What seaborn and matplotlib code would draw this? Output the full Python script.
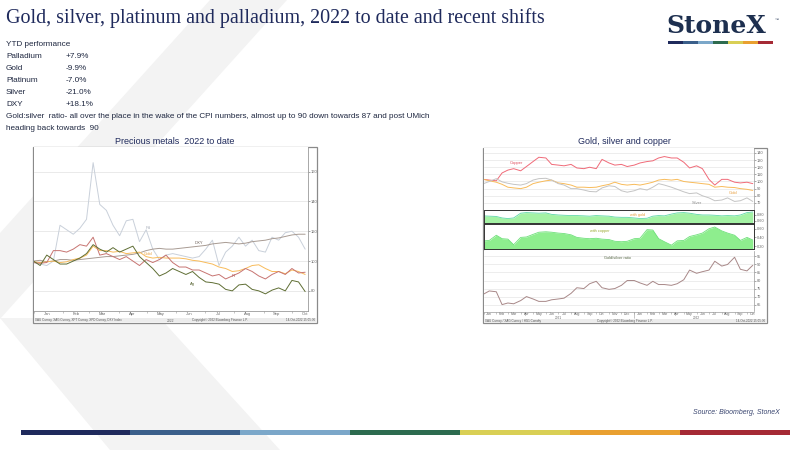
import matplotlib
matplotlib.use('Agg')
import numpy as np
import pandas as pd
import matplotlib.pyplot as plt
import matplotlib.dates as mdates
import matplotlib.transforms as mtrans
from matplotlib.patches import Polygon, Rectangle
import seaborn as sns

# ---------------- data ----------------
# Left chart: precious metals 2022 to date (weekly, rebased = 100)
pm_dates = pd.date_range('2022-01-01', periods=42, freq='7D')
palladium = [99, 98, 97, 100, 124, 121, 118, 122, 128, 166, 138, 134, 124, 117, 127, 128, 113, 121, 108, 101,
             104, 105, 104, 103, 102, 103, 108, 114, 97, 106, 110, 116, 110, 114, 107, 106, 116, 114, 119, 120, 116, 108]
dxy = [100, 100.5, 99.5, 100, 101, 101, 100.5, 101, 101.5, 102, 102.5, 103, 103, 103.5, 104, 104.5, 105.5, 107, 108, 108.5,
       108, 108, 108.5, 109, 109.5, 110, 110.5, 111.5, 112, 112.5, 112, 111.5, 112, 113, 113.5, 114, 115, 115.5, 116.5, 117.5, 118, 118]
gold = [99.5, 99, 99.5, 100, 99, 99.5, 101, 102, 104, 110, 107, 107, 106, 106.5, 105, 105.5, 106, 103, 102, 102.5,
        102, 102, 102, 101.5, 100.5, 100, 99, 98, 96, 95, 93, 93.5, 95, 97, 97.5, 95, 93, 93, 91.5, 94, 93, 91]
platinum = [99, 98.5, 99, 107, 107, 106, 108, 111, 110, 116, 104, 105, 103, 101, 103, 100, 97, 101, 99, 101,
            104, 99, 96, 96, 94, 94, 92, 90, 91, 88, 90, 92, 95, 93, 90, 88, 91, 93, 91, 95, 92, 92.5]
silver = [100, 97, 104, 101, 98, 98, 100, 102, 105, 111, 108, 106, 109, 106, 108, 110, 103, 99, 95, 90,
          92, 95, 93, 91, 93, 89, 86, 85.5, 84.5, 81, 80, 84, 84.5, 81, 80, 78, 80.5, 82, 80, 87, 86, 79.5]
pm_names = ['Pd', 'DXY', 'Gold', 'Pt', 'Ag']
pm_colors = ['#c9d0da', '#a89b93', '#f8bb5a', '#c77471', '#5f6e34']
pm_ticks = [80, 100, 120, 140, 160]

# Right chart: gold, silver and copper (semi-monthly, rebased = 100)
gsc_dates = pd.date_range('2021-01-01', periods=44, freq='SMS')
copper = [103, 102, 101, 112, 116, 118, 115, 121, 128, 134, 133, 124, 123, 122, 124, 119, 118, 120, 118, 131,
          126, 123, 124, 121, 123, 126, 128, 129, 133, 135, 133, 133, 127, 119, 122, 118, 103, 95, 103, 103, 99, 98, 99, 97]
gold2 = [103, 101, 99, 96, 92, 91, 90, 92, 97, 99, 101, 102, 98, 97, 95, 92, 92, 91.5, 92, 94,
         96, 99, 96, 95, 96, 95, 97, 99, 102, 103, 102, 103, 100, 99, 98, 97, 96, 92, 93, 92, 91.5, 90, 89, 87.5]
silver2 = [97, 100, 104, 99.5, 97.5, 96, 95, 97, 102, 104, 104.5, 102, 97, 95, 90, 90, 88, 86, 85.5, 91,
           94, 93, 87, 85, 87, 90, 88, 92, 97, 95, 92, 89, 85.5, 83, 84, 80, 77, 73, 74, 77, 72, 73, 77, 72]
corr_gold = [0.77, 0.76, 0.75, 0.70, 0.68, 0.70, 0.86, 0.88, 0.87, 0.86, 0.87, 0.82, 0.80, 0.79, 0.78, 0.78, 0.77, 0.76,
             0.78, 0.77, 0.76, 0.73, 0.72, 0.72, 0.70, 0.68, 0.69, 0.76, 0.78, 0.77, 0.83, 0.87, 0.88, 0.86, 0.82, 0.80,
             0.80, 0.79, 0.77, 0.78, 0.77, 0.80, 0.88, 0.90]
corr_copper = [0.32, 0.33, 0.45, 0.37, 0.36, 0.23, 0.40, 0.41, 0.47, 0.52, 0.53, 0.52, 0.50, 0.49, 0.46, 0.40, 0.38,
               0.37, 0.38, 0.36, 0.35, 0.31, 0.30, 0.31, 0.37, 0.38, 0.58, 0.57, 0.37, 0.30, 0.22, 0.32, 0.33, 0.42,
               0.46, 0.50, 0.60, 0.64, 0.55, 0.50, 0.45, 0.33, 0.40, 0.34]
gs_ratio = [71.5, 73.5, 73, 65, 66, 65.5, 67.5, 70, 68.5, 67, 67, 68, 68.5, 69, 72, 75.5, 75, 78, 79.5, 75.5,
            74.5, 75, 77, 80, 80, 78.5, 77, 79.5, 77.5, 77.5, 77, 78, 80.5, 86.5, 84.5, 85.5, 86.5, 92, 89, 90,
            94.5, 87, 86, 89.5]
gsc_names = ['Copper', 'Gold', 'Silver']
gsc_colors = ['#f06a78', '#f8bb5a', '#c4c4c4']
gsc_ticks = [70, 80, 90, 100, 110, 120, 130, 140]
cg_ticks = [0.60, 0.80]
cc_ticks = [0.20, 0.40, 0.60]
gs_ticks = [65, 70, 75, 80, 85, 90, 95]

# Text content
title = 'Gold, silver, platinum and palladium, 2022 to date and recent shifts'
ytd_names = ['Palladium', 'Gold', 'Platinum', 'Silver', 'DXY']
ytd_values = ['+7.9%', '-9.9%', '-7.0%', '-21.0%', '+18.1%']
comment = ['Gold:silver  ratio- all over the place in the wake of the CPI numbers, almost up to 90 down towards 87 and post UMich',
           'heading back towards  90']
bar_colors = ['#1f2a5c', '#3a5f8a', '#7ba7c9', '#2d6b4f', '#d9cf55', '#e9a030', '#a52a35']

# ---------------- figure ----------------
sns.set_theme(style='white')
plt.rcParams['font.family'] = ['Liberation Sans', 'DejaVu Sans']
W, H = 800, 450
fig = plt.figure(figsize=(8, 4.5), dpi=100)
fig.patch.set_facecolor('white')


def R(x0, y0, x1, y1):
    return [x0 / W, 1 - y1 / H, (x1 - x0) / W, (y1 - y0) / H]


bg = fig.add_axes([0, 0, 1, 1])
bg.set_xlim(0, W)
bg.set_ylim(H, 0)
bg.axis('off')
# faint watermark chevron
bg.add_patch(Polygon([(210, 0), (287, 0), (0, 319), (0, 233)], closed=True, fc='#f3f3f3', ec='none'))
bg.add_patch(Polygon([(0, 318), (160, 318), (280, 450), (110, 450)], closed=True, fc='#f3f3f3', ec='none'))

navy = '#1f2a5c'
bg.text(6, 18, title, fontsize=14.4, family=['Liberation Serif'], color=navy, va='center', ha='left')

# logo
bg.text(716, 33, 'StoneX', fontsize=18, family=['DejaVu Serif'], weight='bold', color='#1d2f4f',
        ha='center', va='baseline')
bg.text(775, 20, '\u2122', fontsize=3, color='#1d2f4f', ha='left', va='center')
seg = (773 - 668) / 7
for i, c in enumerate(bar_colors):
    bg.add_patch(Rectangle((668 + i * seg, 41.2), seg, 2.8, fc=c, ec='none'))

# text block
tcol = '#1e2740'
fs_txt = 5.9
bg.text(6, 45, 'YTD performance', fontsize=fs_txt, color=tcol, va='center')
for i, (n, v) in enumerate(zip(ytd_names, ytd_values)):
    y = 57 + 12 * i
    bg.text(6, y, n, fontsize=fs_txt, color=tcol, va='center')
    bg.text(66, y, v, fontsize=fs_txt, color=tcol, va='center')
for i, line in enumerate(comment):
    bg.text(6, 117 + 11.8 * i, line, fontsize=fs_txt, color=tcol, va='center')

# source + bottom bar
bg.text(780, 413, 'Source: Bloomberg, StoneX', fontsize=5, style='italic', color='#3a4670', ha='right', va='center')
segb = (790 - 20.5) / 7
for i, c in enumerate(bar_colors):
    bg.add_patch(Rectangle((20.5 + i * segb, 429.5), segb, 5.5, fc=c, ec='none'))

# chart titles
bg.text(175, 141.5, 'Precious metals  2022 to date', fontsize=6.5, color=navy, ha='center', va='center')
bg.text(624, 141.5, 'Gold, silver and copper', fontsize=6.5, color=navy, ha='center', va='center')

# chart frames and footers
for (x0, y0, x1, y1) in [(33, 146.5, 316.5, 322.5), (483, 147.5, 767, 323)]:
    bg.add_patch(Rectangle((x0, y0), x1 - x0, y1 - y0, fc='white', ec='#8a8a8a', lw=0.9))
    bg.add_patch(Rectangle((x0 + 0.5, y1 - 4.5), x1 - x0 - 1, 4, fc='#ececec', ec='none'))
foot_kw = dict(fontsize=2.2, color='#555555', va='center')
bg.text(35, 320.3, 'XAU Curncy, XAG Curncy, XPT Curncy, XPD Curncy, DXY Index', **foot_kw)
bg.text(220, 320.3, 'Copyright\u00a9 2022 Bloomberg Finance L.P.', ha='center', **foot_kw)
bg.text(315, 320.3, '14-Oct-2022 15:05:36', ha='right', **foot_kw)
bg.text(485, 320.8, 'XAU Curncy / XAG Curncy / HG1 Comdty', **foot_kw)
bg.text(625, 320.8, 'Copyright\u00a9 2022 Bloomberg Finance L.P.', ha='center', **foot_kw)
bg.text(765, 320.8, '14-Oct-2022 15:05:36', ha='right', **foot_kw)

tick_col = '#666666'
grid_col = '#e6e6e6'

# ---------------- left chart ----------------
pm_long = pd.DataFrame({
    'date': np.tile(pm_dates, 5),
    'value': palladium + dxy + gold + platinum + silver,
    'series': np.repeat(pm_names, len(pm_dates)),
})
axL = fig.add_axes(R(33.5, 147, 308, 311))
axL.set_facecolor('white')
sns.lineplot(data=pm_long, x='date', y='value', hue='series', hue_order=pm_names,
             palette=pm_colors, lw=0.7, legend=False, ax=axL)
axL.set_xlim(pd.Timestamp('2022-01-01'), pd.Timestamp('2022-10-18'))
axL.set_ylim(66.5, 176.5)
axL.set_yticks(pm_ticks)
axL.set_yticklabels([str(t) for t in pm_ticks])
axL.yaxis.tick_right()
axL.grid(axis='y', color=grid_col, lw=0.6)
axL.set_axisbelow(True)
axL.set_xlabel('')
axL.set_ylabel('')
for s in ['top', 'left']:
    axL.spines[s].set_visible(False)
for s in ['right', 'bottom']:
    axL.spines[s].set_color('#9a9a9a')
    axL.spines[s].set_linewidth(0.6)
axL.xaxis.set_major_locator(mdates.MonthLocator(bymonthday=15))
axL.xaxis.set_major_formatter(mdates.DateFormatter('%b'))
axL.xaxis.set_minor_locator(mdates.MonthLocator())
axL.tick_params(axis='x', which='major', length=0, labelsize=3, pad=0.6, colors=tick_col)
axL.tick_params(axis='x', which='minor', length=1.5, width=0.4, color='#999999', bottom=True)
axL.tick_params(axis='y', labelsize=3, length=1.5, width=0.4, pad=0.8, colors=tick_col, right=True)
axL.text(0.5, -0.06, '2022', transform=axL.transAxes, fontsize=2.4, color=tick_col, ha='center', va='center')
lab_kw = dict(fontsize=3, va='center', ha='center')
axL.text(pd.Timestamp('2022-05-02'), 122, 'Pd', color='#a8afba', **lab_kw)
axL.text(pd.Timestamp('2022-05-02'), 104.5, 'Gold', color='#e8a040', **lab_kw)
axL.text(pd.Timestamp('2022-06-25'), 112, 'DXY', color='#6f625a', **lab_kw)
axL.text(pd.Timestamp('2022-08-01'), 90, 'Pt', color='#b05a58', **lab_kw)
axL.text(pd.Timestamp('2022-06-18'), 84.5, 'Ag', color='#4f5c28', **lab_kw)

# ---------------- right chart ----------------
xlim_r = (pd.Timestamp('2021-01-01'), pd.Timestamp('2022-10-18'))
dark = '#333333'


def style_panel(ax, ylim, ticks, fmt, edge, lw_edge):
    ax.set_facecolor('white')
    ax.set_xlim(*xlim_r)
    ax.set_ylim(*ylim)
    ax.set_yticks(ticks)
    ax.set_yticklabels([fmt.format(t) for t in ticks])
    ax.yaxis.tick_right()
    ax.tick_params(axis='y', labelsize=2.8, length=1.2, width=0.4, pad=0.8, colors=tick_col, right=True)
    ax.set_xlabel('')
    ax.set_ylabel('')
    for s in ax.spines.values():
        s.set_color(edge)
        s.set_linewidth(lw_edge)


gsc_long = pd.DataFrame({
    'date': np.tile(gsc_dates, 3),
    'value': copper + gold2 + silver2,
    'series': np.repeat(gsc_names, len(gsc_dates)),
})
ax1 = fig.add_axes(R(483.5, 148, 754, 210))
sns.lineplot(data=gsc_long, x='date', y='value', hue='series', hue_order=gsc_names,
             palette=gsc_colors, lw=0.7, legend=False, ax=ax1)
style_panel(ax1, (60, 147), gsc_ticks, '{:d}', '#9a9a9a', 0.5)
ax1.spines['top'].set_visible(False)
ax1.spines['left'].set_visible(False)
ax1.grid(axis='y', color=grid_col, lw=0.5)
ax1.set_axisbelow(True)
ax1.set_xticks([])
ax1.text(pd.Timestamp('2021-03-22'), 126, 'Copper', fontsize=3, color='#e05060', ha='center', va='center')
ax1.text(pd.Timestamp('2022-08-28'), 83.5, 'Gold', fontsize=3, color='#e8a040', ha='center', va='center')
ax1.text(pd.Timestamp('2022-06-01'), 69.5, 'Silver', fontsize=3, color='#8a8a8a', ha='center', va='center')

ax2 = fig.add_axes(R(483.5, 210.5, 754, 223))
ax2.fill_between(gsc_dates, 0, corr_gold, color='#a4f2a4', lw=0)
sns.lineplot(x=gsc_dates, y=corr_gold, color='#60d8a8', lw=0.6, ax=ax2)
style_panel(ax2, (0.53, 0.95), cg_ticks, '{:.2f}', dark, 0.7)
ax2.xaxis.set_major_locator(mdates.MonthLocator())
ax2.grid(axis='x', color='white', lw=0.5, alpha=0.8)
ax2.tick_params(axis='x', length=0, labelbottom=False)
ax2.text(pd.Timestamp('2022-01-10'), 0.80, 'with gold', fontsize=2.8, color='#e8a040', ha='center', va='center')

ax3 = fig.add_axes(R(483.5, 224, 754, 249.5))
ax3.fill_between(gsc_dates, 0, corr_copper, color='#8eee8e', lw=0)
sns.lineplot(x=gsc_dates, y=corr_copper, color='#6ee07a', lw=0.6, ax=ax3)
style_panel(ax3, (0.12, 0.71), cc_ticks, '{:.2f}', dark, 0.7)
ax3.xaxis.set_major_locator(mdates.MonthLocator())
ax3.grid(axis='x', color='white', lw=0.5, alpha=0.8)
ax3.tick_params(axis='x', length=0, labelbottom=False)
ax3.text(pd.Timestamp('2021-10-10'), 0.55, 'with copper', fontsize=2.8, color='#9aaa30', ha='center', va='center')

ax4 = fig.add_axes(R(483.5, 250.5, 754, 311.5))
sns.lineplot(x=gsc_dates, y=gs_ratio, color='#a88888', lw=0.7, ax=ax4)
style_panel(ax4, (60.7, 98.7), gs_ticks, '{:d}', '#9a9a9a', 0.5)
ax4.spines['top'].set_visible(False)
ax4.spines['left'].set_visible(False)
ax4.grid(axis='y', color=grid_col, lw=0.5)
ax4.set_axisbelow(True)
ax4.xaxis.set_major_locator(mdates.MonthLocator(bymonthday=15))
ax4.xaxis.set_major_formatter(mdates.DateFormatter('%b'))
ax4.xaxis.set_minor_locator(mdates.MonthLocator())
ax4.tick_params(axis='x', which='major', length=0, labelsize=2.6, pad=0.5, colors=tick_col)
ax4.tick_params(axis='x', which='minor', length=1.2, width=0.4, color='#999999', bottom=True)
ax4.text(pd.Timestamp('2021-11-22'), 94, 'Gold/silver ratio', fontsize=2.8, color='#556644', ha='center', va='center')
blend = mtrans.blended_transform_factory(ax4.transData, ax4.transAxes)
ax4.text(pd.Timestamp('2021-07-01'), -0.1, '2021', transform=blend, fontsize=2.3, color=tick_col, ha='center', va='center')
ax4.text(pd.Timestamp('2022-06-01'), -0.1, '2022', transform=blend, fontsize=2.3, color=tick_col, ha='center', va='center')
ax4.plot([pd.Timestamp('2022-01-01')] * 2, [0, -0.11], transform=blend, color='#999999', lw=0.4, clip_on=False)

fig.savefig('out.png', dpi=100, facecolor='white')
